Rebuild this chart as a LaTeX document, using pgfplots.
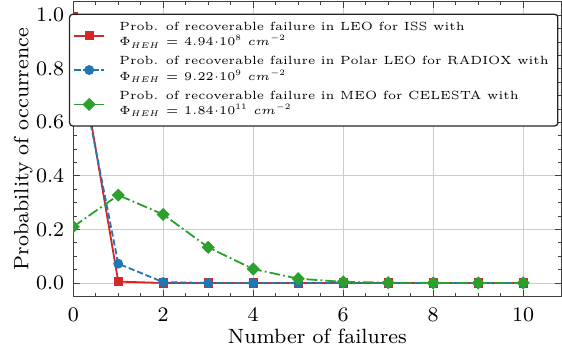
\RequirePackage{fix-cm}
\documentclass[border=0pt]{standalone}
\usepackage{pgfplots}
\pgfplotsset{compat=1.18}

\definecolor{tabred}{HTML}{D62728}
\definecolor{tabblue}{HTML}{1F77B4}
\definecolor{tabgreen}{HTML}{2CA02C}

\begin{document}
\begin{tikzpicture}
\begin{axis}[
  scale only axis,
  width=189pt, height=114pt,
  xmin=0, xmax=10.85,
  ymin=-0.05, ymax=1.05,
  xtick={0,2,...,10},
  ytick={0,0.2,...,1.0},
  minor x tick num=3,
  minor y tick num=3,
  tick align=inside,
  xtick pos=both, ytick pos=both,
  major tick length=2.5pt,
  minor tick length=1.4pt,
  every tick/.style={black!75, line width=0.3pt},
  axis line style={black!75, line width=0.45pt},
  tick label style={font=\fontsize{8}{9.6}\selectfont},
  yticklabel style={/pgf/number format/.cd, fixed, fixed zerofill, precision=1},
  xticklabel style={yshift=-1.2pt, /pgf/number format/.cd, fixed},
  label style={font=\fontsize{8}{9.6}\selectfont},
  xlabel={Number of failures},
  ylabel={Probability of occurrence},
  xlabel style={yshift=4.3pt},
  ylabel style={yshift=-5.5pt},
  grid=major,
  major grid style={black!20, line width=0.35pt},
  clip mode=individual,
  clip marker paths=true,
  legend image code/.code={
    \draw[mark repeat=2, mark phase=2, #1]
      plot coordinates {(0pt,0pt) (5.75pt,0pt) (11.5pt,0pt)};
  },
  legend style={
    at={(0.994,0.96)}, anchor=north east,
    font=\fontsize{4.6}{5.9}\selectfont,
    draw=black!85, line width=0.5pt, rounded corners=1.2pt,
    fill=white,
    cells={align=left, anchor=west},
    row sep=-1.4pt,
    inner xsep=1.5pt, inner ysep=1pt,
    /tikz/every odd column/.append style={column sep=3.6pt},
  },
]
\addplot[tabred, line width=0.7pt, mark=square*, mark size=1.45pt, mark options={solid}]
  coordinates {(0,0.995) (1,0.005) (2,0.0) (3,0.0) (4,0.0) (5,0.0) (6,0.0) (7,0.0) (8,0.0) (9,0.0) (10,0.0)};
\addlegendentry{Prob. of recoverable failure in LEO for ISS with\\$\Phi_{HEH}$ = $4.94{\cdot}10^{8}$ $cm^{-2}$}

\addplot[tabblue, line width=0.7pt, dash pattern=on 2.4pt off 1.1pt, mark=*, mark size=1.55pt, mark options={solid}]
  coordinates {(0,0.925) (1,0.072) (2,0.003) (3,0.0) (4,0.0) (5,0.0) (6,0.0) (7,0.0) (8,0.0) (9,0.0) (10,0.0)};
\addlegendentry{Prob. of recoverable failure in Polar LEO for RADIOX with\\$\Phi_{HEH}$ = $9.22{\cdot}10^{9}$ $cm^{-2}$}

\addplot[tabgreen, line width=0.7pt, dash pattern=on 4.2pt off 1.2pt on 0.7pt off 1.2pt, mark=square*, mark size=1.45pt, mark options={solid, rotate=45}]
  coordinates {(0,0.210) (1,0.328) (2,0.256) (3,0.133) (4,0.052) (5,0.016) (6,0.004) (7,0.001) (8,0.0) (9,0.0) (10,0.0)};
\addlegendentry{Prob. of recoverable failure in MEO for CELESTA with\\$\Phi_{HEH}$ = $1.84{\cdot}10^{11}$ $cm^{-2}$}
\end{axis}
% a small margin on the left of the y label
\path ([xshift=-2pt]current bounding box.west);
\end{tikzpicture}
\end{document}
